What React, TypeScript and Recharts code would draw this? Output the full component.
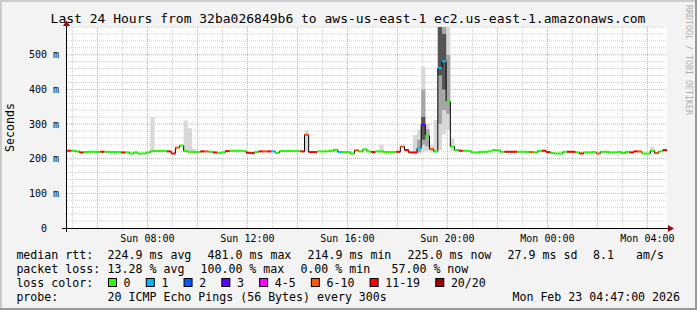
import { ComposedChart, XAxis, YAxis, CartesianGrid, Area, Line, Scatter } from "recharts";

const W = 697;
const H = 310;
const MONO = "'DejaVu Sans Mono', monospace";

// time axis: minutes since Sun 00:00, one slot every 10 minutes from Sun 04:47
const START = 287;
const STEP = 10;

// median rtt per slot (ms)
const median = [
  223, 223, 221, 218, 219, 220, 220, 220, 220, 220, 219, 219, 219, 218, 218, 215,
  218, 215, 215, 218, 222, 222, 222, 222, 221, 215, 232, 238, 222, 220, 220, 219,
  221, 221, 220, 218, 216, 218, 222, 223, 223, 223, 222, 217, 216, 219, 221, 221,
  221, 221, 217, 222, 222, 222, 222, 222, 221, 269, 219, 219, 221, 221, 221, 223,
  226, 219, 219, 219, 215, 224, 221, 227, 221, 219, 221, 221, 219, 219, 219, 220,
  235, 225, 218, 218, 230, 298, 267, 228, 221, 462, 481, 365, 235, 225, 223, 223,
  222, 218, 218, 220, 220, 221, 225, 224, 220, 220, 220, 220, 220, 220, 220, 219,
  218, 223, 223, 219, 216, 215, 215, 220, 220, 220, 218, 215, 218, 218, 219, 215,
  220, 220, 218, 218, 220, 216, 220, 218, 221, 221, 215, 215, 223, 216, 221, 225,
];

// loss class per slot: index into lossLabels / lossColors
const lossClass = [
  6, 0, 0, 6, 0, 0, 0, 0, 6, 0, 0, 0, 0, 6, 0, 0,
  0, 0, 0, 0, 0, 0, 0, 0, 6, 6, 5, 0, 0, 0, 0, 0,
  6, 5, 0, 6, 0, 0, 6, 0, 0, 0, 0, 6, 6, 0, 6, 5,
  6, 1, 0, 0, 0, 0, 0, 0, 6, 5, 6, 6, 0, 0, 0, 0,
  0, 1, 0, 0, 0, 5, 0, 0, 0, 6, 0, 0, 0, 0, 0, 6,
  5, 6, 6, 6, 1, 3, 0, 5, 0, 1, 1, 0, 0, 0, 6, 0,
  0, 0, 0, 0, 0, 0, 0, 0, 0, 6, 6, 6, 0, 0, 0, 5,
  0, 0, 6, 6, 0, 0, 0, 0, 6, 6, 0, 6, 0, 0, 0, 5,
  0, 0, 0, 0, 0, 0, 0, 6, 6, 5, 0, 0, 0, 5, 0, 6,
];

const lossLabels = ["0", "1", "2", "3", "4-5", "6-10", "11-19", "20/20"];
const lossColors = ["#26ff00", "#00b8ff", "#0059ff", "#5e00ff", "#ff00ff", "#ff5500", "#ff0000", "#a10000"];

// smoke (ping spread), only where it is visible
const lightIdx = [20, 28, 29, 30, 57, 75, 83, 84, 85, 86, 87, 88, 89, 90, 91, 92, 140];
const lightLo = [218, 218, 218, 217, 220, 218, 215, 216, 222, 222, 218, 218, 225, 270, 283, 222, 219];
const lightHi = [320, 310, 288, 228, 282, 240, 268, 285, 466, 300, 240, 312, 580, 580, 580, 258, 235];
const midIdx = [84, 85, 86, 89, 90, 91];
const midLo = [218, 240, 235, 300, 340, 330];
const midHi = [255, 400, 285, 580, 580, 500];
const darkIdx = [85, 89, 90];
const darkLo = [255, 440, 400];
const darkHi = [320, 580, 560];

const timeTicks = [480, 720, 960, 1200, 1440, 1680];
const timeLabels = ["Sun 08:00", "Sun 12:00", "Sun 16:00", "Sun 20:00", "Mon 00:00", "Mon 04:00"];
const valueTicks = [0, 100, 200, 300, 400, 500];

const rttStats = ["224.9 ms avg", "481.0 ms max", "214.9 ms min", "225.0 ms now", "27.9 ms sd", "8.1", "am/s"];
const lossStats = ["13.28 % avg", "100.00 % max", "0.00 % min", "57.00 % now"];

const rangeAt = (idx: number[], lo: number[], hi: number[], i: number, m: number) => {
  const k = idx.indexOf(i);
  return k < 0 ? [m, m] : [lo[k], hi[k]];
};

const rows = median.map((m, i) => ({
  t: START + STEP * i + STEP / 2,
  median: m,
  color: lossColors[lossClass[i]],
  light: rangeAt(lightIdx, lightLo, lightHi, i, m),
  mid: rangeAt(midIdx, midLo, midHi, i, m),
  dark: rangeAt(darkIdx, darkLo, darkHi, i, m),
}));

const SLOT_W = 600 / median.length;

const minorY: number[] = [];
for (let v = 20; v <= 580; v += 20) if (v % 100 !== 0) minorY.push(v);
const majorY = [100, 200, 300, 400, 500];
const minorX: number[] = [];
const majorX: number[] = [];
for (let h = 5; h <= 28; h++) (h % 2 === 0 ? majorX : minorX).push(h * 60);

const Segment = (p: any) => (
  <rect x={p.cx - SLOT_W / 2} y={p.cy - 1} width={SLOT_W} height={2} fill={p.payload.color} />
);

const rttX = [107.6, 207.6, 307.6, 407.6, 507.6, 593, 636];
const lossX = [107.6, 200.5, 300.4, 391.5];

export default function App() {
  let lx = 108;
  const legendItems = lossLabels.map((label, i) => {
    const x = lx;
    lx += 15.6 + label.length * 6.98 + 15.2;
    return (
      <g key={label}>
        <rect x={x + 0.5} y={278.5} width={8} height={8} fill={lossColors[i]} stroke="#000" strokeWidth={1} />
        <text x={x + 15.6} y={286.5}>{label}</text>
      </g>
    );
  });

  return (
    <div style={{ position: "absolute", left: 0, top: 0, width: W, height: H, background: "#f3f3f3" }}>
      <ComposedChart width={W} height={H} data={rows} margin={{ top: 27, right: 30, bottom: 62, left: 0 }}>
        <CartesianGrid
          fill="#ffffff"
          fillOpacity={1}
          stroke="#cfcfcf"
          strokeDasharray="1 1"
          horizontalValues={minorY}
          verticalValues={minorX}
        />
        <CartesianGrid
          fill="none"
          stroke="#f09a9a"
          strokeDasharray="1 1"
          horizontalValues={majorY}
          verticalValues={majorX}
        />
        <XAxis
          dataKey="t"
          type="number"
          domain={[START, START + 1440]}
          ticks={timeTicks}
          interval={0}
          tickFormatter={(v: number) => timeLabels[timeTicks.indexOf(v)]}
          axisLine={false}
          tickLine={false}
          tickSize={5}
          tickMargin={2}
          height={20}
          tick={{ fontSize: 10, fill: "#000", fontFamily: MONO }}
        />
        <YAxis
          type="number"
          domain={[0, 580]}
          allowDataOverflow
          ticks={valueTicks}
          interval={0}
          tickFormatter={(v: number) => (v === 0 ? "0\u00a0\u00a0" : `${v} m`)}
          axisLine={false}
          tickLine={false}
          tickSize={6}
          tickMargin={2}
          width={67}
          tick={{ fontSize: 10, fill: "#000", fontFamily: MONO }}
        />
        <Area dataKey="light" type="step" stroke="none" fill="#d8d8d8" fillOpacity={1} isAnimationActive={false} activeDot={false} />
        <Area dataKey="mid" type="step" stroke="none" fill="#a6a6a6" fillOpacity={1} isAnimationActive={false} activeDot={false} />
        <Area dataKey="dark" type="step" stroke="none" fill="#555555" fillOpacity={1} isAnimationActive={false} activeDot={false} />
        <Line dataKey="median" type="step" stroke="#000" strokeWidth={1} dot={false} activeDot={false} isAnimationActive={false} />
        <Scatter dataKey="median" shape={Segment} isAnimationActive={false} />
      </ComposedChart>

      <svg width={W} height={H} style={{ position: "absolute", left: 0, top: 0, pointerEvents: "none" }}>
        {/* frame */}
        <rect x={0} y={0} width={W} height={2} fill="#cbcbcb" />
        <rect x={0} y={0} width={2} height={H} fill="#cbcbcb" />
        <rect x={W - 2} y={0} width={2} height={H} fill="#999999" />
        <rect x={0} y={H - 2} width={W} height={2} fill="#999999" />

        {/* axes */}
        <line x1={66.5} y1={232} x2={66.5} y2={25} stroke="#000" strokeWidth={1} />
        <line x1={62} y1={228.5} x2={669} y2={228.5} stroke="#000" strokeWidth={1} />
        <polygon points="63,26 70,26 66.5,20.5" fill="#8b1010" />
        <polygon points="668,225 668,232 674,228.5" fill="#8b1010" />

        <g fontFamily={MONO} fill="#000">
          <text x={348} y={23} fontSize={13} textAnchor="middle">
            Last 24 Hours from 32ba026849b6 to aws-us-east-1 ec2.us-east-1.amazonaws.com
          </text>
          <text transform="translate(10,127.5) rotate(-90)" fontSize={11.6} textAnchor="middle" dominantBaseline="central">
            Seconds
          </text>
          <text transform="translate(686,5) rotate(90)" fontSize={8.3} fill="#b0b0b0">
            RRDTOOL / TOBI OETIKER
          </text>

          <g fontSize={11.6}>
            <text x={16.4} y={258.5}>median rtt:</text>
            {rttStats.map((s, i) => (
              <text key={s} x={rttX[i]} y={258.5}>{s}</text>
            ))}
            <text x={16.4} y={272.5}>packet loss:</text>
            {lossStats.map((s, i) => (
              <text key={s} x={lossX[i]} y={272.5}>{s}</text>
            ))}
            <text x={16.4} y={286.5}>loss color:</text>
            {legendItems}
            <text x={16.4} y={300.5}>probe:</text>
            <text x={107.6} y={300.5}>20 ICMP Echo Pings (56 Bytes) every 300s</text>
            <text x={680} y={300.5} textAnchor="end">Mon Feb 23 04:47:00 2026</text>
          </g>
        </g>
      </svg>
    </div>
  );
}
